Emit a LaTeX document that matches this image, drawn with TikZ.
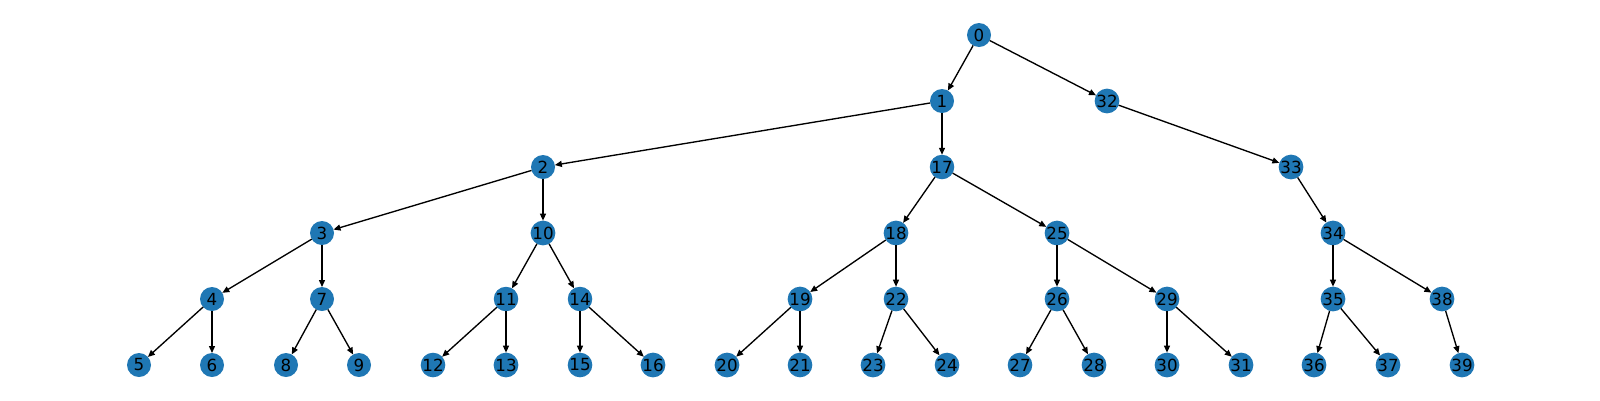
\documentclass[tikz,border=0pt]{standalone}
\usepackage{fontspec}
\setmainfont{DejaVu Sans}
\usetikzlibrary{arrows.meta}
\definecolor{tabblue}{HTML}{1F77B4}
\begin{document}
\begin{tikzpicture}[x=1pt,y=-1pt,
  vtx/.style={circle,fill=tabblue,minimum size=24pt,inner sep=0pt,outer sep=0pt,font=\fontsize{16.7}{18}\selectfont},
  edge/.style={line width=1.35pt,-{Triangle[length=7pt,width=6pt]}}]
\useasboundingbox (0,0) rectangle (1600,400);
\foreach \n/\x/\y in {0/979/35, 1/942/101, 32/1107/101, 2/543/167, 17/942/167, 33/1291/167,
  3/322/233, 10/543/233, 18/896/233, 25/1057/233, 34/1333/233,
  4/212/299, 7/322/299, 11/506/299, 14/580/299, 19/800/299, 22/896/299, 26/1057/299, 29/1167/299, 35/1333/299, 38/1442/299,
  5/139/365, 6/212/365, 8/286/365, 9/359/365, 12/433/365, 13/506/365, 15/580/365, 16/653/365,
  20/727/365, 21/800/365, 23/873/365, 24/947/365, 27/1020/365, 28/1094/365, 30/1167/365, 31/1241/365,
  36/1314/365, 37/1388/365, 39/1462/365}
  \node[vtx] (n\n) at (\x,\y) {\n};
\foreach \a/\b in {0/1, 0/32, 1/2, 1/17, 32/33, 2/3, 2/10, 17/18, 17/25, 33/34,
  3/4, 3/7, 10/11, 10/14, 18/19, 18/22, 25/26, 25/29, 34/35, 34/38,
  4/5, 4/6, 7/8, 7/9, 11/12, 11/13, 14/15, 14/16, 19/20, 19/21, 22/23, 22/24,
  26/27, 26/28, 29/30, 29/31, 35/36, 35/37, 38/39}
  \draw[edge] (n\a) -- (n\b);
\end{tikzpicture}
\end{document}
